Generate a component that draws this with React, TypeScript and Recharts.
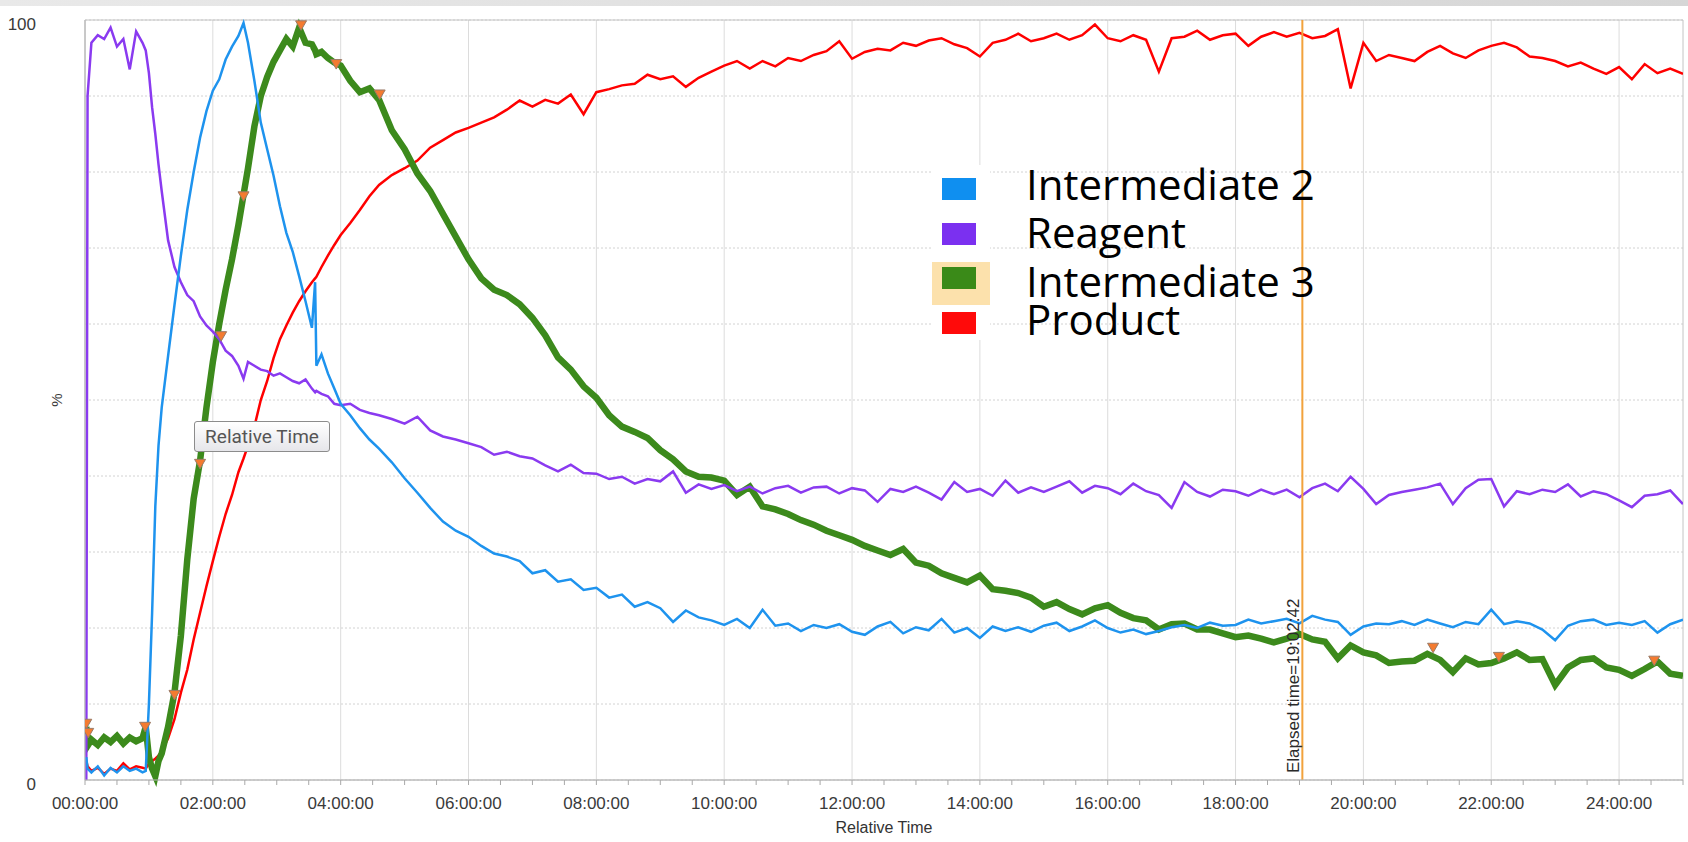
import React from 'react';
import {
  ComposedChart,
  Line,
  Scatter,
  XAxis,
  YAxis,
  CartesianGrid,
  ReferenceLine,
  ReferenceArea,
  Legend,
} from 'recharts';

// relative time in hours
const hours = [
  0.02, 0.04, 0.1, 0.2, 0.3, 0.4, 0.5, 0.6, 0.7, 0.8, 0.9, 0.95, 1, 1.05, 1.1, 1.15, 1.2, 1.3, 1.4, 1.5,
  1.6, 1.7, 1.8, 1.9, 2, 2.1, 2.2, 2.3, 2.4, 2.48, 2.55, 2.65, 2.75, 2.85, 2.95, 3.05, 3.15, 3.25, 3.35, 3.45,
  3.55, 3.6, 3.62, 3.7, 3.8, 3.9, 4, 4.15, 4.3, 4.45, 4.6, 4.8, 5, 5.2, 5.4, 5.6, 5.8, 6, 6.2, 6.4,
  6.6, 6.8, 7, 7.2, 7.4, 7.6, 7.8, 8, 8.2, 8.4, 8.6, 8.8, 9, 9.2, 9.4, 9.6, 9.8, 10, 10.2, 10.4,
  10.6, 10.8, 11, 11.2, 11.4, 11.6, 11.8, 12, 12.2, 12.4, 12.6, 12.8, 13, 13.2, 13.4, 13.6, 13.8, 14, 14.2, 14.4,
  14.6, 14.8, 15, 15.2, 15.4, 15.6, 15.8,
  16, 16.2, 16.4, 16.6, 16.8, 17, 17.2, 17.4, 17.6, 17.8, 18, 18.2, 18.4, 18.6, 18.8, 19, 19.2, 19.4, 19.6, 19.8,
  20, 20.2, 20.4, 20.6, 20.8, 21, 21.2, 21.4, 21.6, 21.8, 22, 22.2, 22.4, 22.6, 22.8, 23, 23.2, 23.4, 23.6, 23.8,
  24, 24.2, 24.4, 24.6, 24.8, 25,
];

const intermediate2 = [
  3, 1.5, 1.0, 1.8, 0.6, 1.6, 1.0, 1.8, 1.2, 1.5, 1.0, 1.2, 10, 22, 36, 44, 49, 55.8, 62.5, 69,
  75, 80, 84.5, 88, 90.7, 92.2, 94.8, 96.5, 97.9, 99.6, 97, 92, 86.5, 83, 79.5, 75.5, 72, 69.5, 66.3, 63,
  59.5, 65.5, 54.5, 56, 53.5, 51.5, 49.5, 48, 46.3, 44.8, 43.6, 41.8, 39.7, 37.8, 35.8, 34.0, 32.8, 32.0, 30.8, 29.8,
  29.4, 28.8, 27.2, 27.6, 26.1, 26.4, 25.0, 25.3, 24.0, 24.4, 22.8, 23.4, 22.6, 20.8, 22.3, 21.4, 21.0, 20.4, 21.2, 20.0,
  22.4, 20.3, 20.6, 19.6, 20.4, 20.0, 20.5, 19.5, 19.1, 20.2, 20.8, 19.3, 20.1, 19.7, 21.2, 19.4, 20.0, 18.7, 20.2, 19.6,
  20.1, 19.5, 20.3, 20.7, 19.6, 20.2, 21.0,
  20.0, 19.4, 19.8, 19.2, 19.6, 20.1, 20.4, 20.0, 20.7, 20.3, 20.4, 21.1, 20.6, 20.9, 21.2, 20.6, 21.6, 21.1, 20.8, 19.1,
  20.2, 20.6, 20.5, 20.9, 20.4, 21.1, 20.6, 20.1, 20.8, 20.5, 22.4, 20.5, 20.9, 20.6, 19.8, 18.4, 20.3, 20.9, 21.1, 20.4,
  20.7, 20.4, 20.9, 19.4, 20.5, 21.1,
];

const reagent = [
  0, 90, 97, 98, 97.5, 99, 96.5, 97.5, 93.5, 98.5, 97, 96, 93, 88.5, 85, 81, 77.5, 71, 67.5, 65.5,
  63.8, 63, 61, 59.8, 59, 58, 56.5, 55.8, 54.5, 52.8, 55, 54.5, 54, 53.8, 53.2, 53.5, 53, 52.5, 52.2, 52.7,
  51.5, 51, 51.2, 50.8, 50.5, 49.5, 49.3, 49.5, 48.7, 48.3, 48, 47.5, 46.9, 47.8, 46, 45.2, 44.8, 44.3, 43.8, 42.8,
  43.2, 42.6, 42.3, 41.4, 40.6, 41.5, 40.4, 40.3, 39.6, 39.9, 39.0, 39.6, 39.3, 40.6, 37.8, 38.9, 38.3, 38.8, 38.0, 38.6,
  37.7, 38.4, 38.7, 37.8, 38.5, 38.6, 37.7, 38.4, 38.1, 36.6, 38.3, 37.9, 38.6, 37.8, 36.9, 39.2, 37.9, 38.3, 37.4, 39.4,
  37.8, 38.5, 37.9, 38.6, 39.3, 37.8, 38.7,
  38.4, 37.6, 39.0, 38.0, 37.5, 35.8, 39.2, 37.9, 37.3, 38.2, 38.0, 37.4, 38.2, 37.6, 38.2, 37.2, 38.4, 39.0, 38.0, 39.9,
  38.3, 36.3, 37.5, 37.9, 38.2, 38.5, 39.0, 36.3, 38.4, 39.5, 39.6, 36.0, 38.0, 37.6, 38.2, 37.9, 38.9, 37.3, 38.0, 37.6,
  36.8, 35.9, 37.4, 37.6, 38.1, 36.3,
];

const intermediate3 = [
  7, 4.5, 5.3, 4.6, 5.6, 5.0, 5.8, 4.8, 5.6, 5.1, 5.5, 7, 3, 1.5, 0.5, 2.5, 3.5, 7, 11.5, 19,
  29, 37, 42, 49, 55, 60, 64.5, 68.5, 73, 77, 80.5, 86, 90, 92.5, 94.5, 96, 97.5, 96.5, 99, 97,
  96.8, 96, 95.5, 95.8, 95, 94.4, 94, 92, 90.5, 91, 89.5, 85.5, 83, 79.8, 77.5, 74.5, 71.5, 68.5, 66, 64.5,
  63.8, 62.6, 60.8, 58.5, 55.6, 54.0, 51.8, 50.3, 48.0, 46.5, 45.8, 45.0, 43.4, 42.2, 40.6, 39.9, 39.8, 39.4, 37.5, 38.6,
  36.0, 35.6, 35.0, 34.2, 33.6, 32.8, 32.2, 31.6, 30.8, 30.2, 29.6, 30.4, 28.6, 28.2, 27.2, 26.6, 26.0, 26.9, 25.1, 24.9,
  24.6, 24.0, 22.8, 23.4, 22.5, 21.8, 22.6,
  23.0, 22.0, 21.3, 21.0, 19.8, 20.5, 20.6, 19.8, 19.8, 19.3, 18.8, 19.0, 18.6, 18.1, 18.6, 19.2, 18.5, 18.2, 16.0, 17.7,
  16.8, 16.4, 15.4, 15.6, 15.7, 16.6, 15.8, 14.2, 16.0, 15.2, 15.4, 16.0, 16.8, 15.8, 15.9, 12.5, 14.8, 15.8, 16.0, 14.8,
  14.5, 13.7, 14.6, 15.6, 14.0, 13.7,
];

const product = [
  2.5, 1.8, 1.2, 1.6, 0.8, 1.5, 1.2, 2.2, 1.4, 1.8, 1.6, 1.5, 2.2, 2.5, 2.8, 3.2, 3.8, 5.5, 8, 11.5,
  14.5, 18.5, 22, 25.5, 28.8, 32, 35, 37.5, 40.5, 42.3, 44, 46.5, 50, 52.5, 55.5, 58, 59.8, 61.5, 63, 64.3,
  65.5, 66, 66.2, 67.5, 69, 70.4, 71.7, 73.3, 75, 76.8, 78.3, 79.6, 80.5, 81.5, 83.2, 84.2, 85.2, 85.8, 86.5, 87.2,
  88.2, 89.4, 88.6, 89.5, 89.0, 90.2, 87.6, 90.5, 90.9, 91.4, 91.6, 92.8, 92.2, 92.6, 91.2, 92.4, 93.2, 94.0, 94.6, 93.6,
  94.6, 93.9, 95.0, 94.6, 95.4, 95.9, 97.2, 94.9, 95.8, 96.2, 96.0, 97.0, 96.6, 97.3, 97.6, 96.8, 96.3, 95.2, 97.0, 97.4,
  98.2, 97.2, 97.6, 98.2, 97.4, 98.0, 99.4,
  97.6, 97.2, 98.0, 97.4, 93.2, 97.6, 97.8, 98.6, 97.4, 98.0, 98.2, 96.6, 97.8, 98.4, 97.8, 98.3, 97.6, 97.9, 98.8, 91.0,
  97.0, 94.6, 95.4, 95.0, 94.6, 95.8, 96.6, 95.6, 95.0, 96.0, 96.6, 97.0, 96.4, 95.2, 95.0, 94.6, 93.9, 94.4, 93.6, 92.9,
  93.8, 92.2, 94.2, 93.0, 93.6, 92.9,
];

// event markers sitting on the Intermediate 3 trace
const markerHours = [0.02, 0.05, 0.94, 1.4, 1.8, 2.13, 2.48, 3.38, 3.93, 4.61, 21.09, 22.12, 24.55];
const markerPct = [7.4, 6.2, 7.0, 11.2, 41.6, 58.4, 76.8, 99.3, 94.2, 90.2, 17.4, 16.2, 15.7];

const labelHours = [0, 2, 4, 6, 8, 10, 12, 14, 16, 18, 20, 22, 24];
const xTickLabels = [
  '00:00:00', '02:00:00', '04:00:00', '06:00:00', '08:00:00', '10:00:00', '12:00:00',
  '14:00:00', '16:00:00', '18:00:00', '20:00:00', '22:00:00', '24:00:00',
];
const minorHours = [
  0, 0.5, 1, 1.5, 2, 2.5, 3, 3.5, 4, 4.5, 5, 5.5, 6, 6.5, 7, 7.5, 8, 8.5, 9, 9.5, 10, 10.5, 11, 11.5, 12, 12.5,
  13, 13.5, 14, 14.5, 15, 15.5, 16, 16.5, 17, 17.5, 18, 18.5, 19, 19.5, 20, 20.5, 21, 21.5, 22, 22.5, 23, 23.5,
  24, 24.5, 25,
];
const yTicks = [0, 10, 20, 30, 40, 50, 60, 70, 80, 90, 100];
const yLabelled = [0, 100];

const elapsedHours = 19.045;
const elapsedLabel = 'Elapsed time=19:02:42';

const legendNames = ['Intermediate 2', 'Reagent', 'Intermediate 3', 'Product'];
const legendColors = ['#0F8FF0', '#7B30F0', '#3A8A18', '#FF0A0A'];

const rows = hours.map((t, i) => ({
  t,
  int2: intermediate2[i],
  reagent: reagent[i],
  int3: intermediate3[i],
  product: product[i],
}));
const markers = markerHours.map((t, i) => ({ t, v: markerPct[i] }));

const XTick = (props: any) => {
  const { x, y, payload } = props;
  const i = labelHours.indexOf(payload.value);
  if (i < 0) return <g />;
  return (
    <text x={x} y={y + 22} textAnchor="middle" fontSize={17} fill="#3a3a3a">
      {xTickLabels[i]}
    </text>
  );
};

const YTick = (props: any) => {
  const { y, payload } = props;
  if (!yLabelled.includes(payload.value)) return <g />;
  return (
    <text x={36} y={y + 10} textAnchor="end" fontSize={17} fill="#3a3a3a">
      {payload.value}
    </text>
  );
};

const Triangle = (props: any) => {
  const { cx, cy } = props;
  return (
    <path
      d={`M${cx - 5.5},${cy - 4.5} L${cx + 5.5},${cy - 4.5} L${cx},${cy + 5} Z`}
      fill="#F47B30"
      stroke="#9a7a66"
      strokeWidth={1}
    />
  );
};

const ElapsedLabel = (props: any) => {
  const { viewBox } = props;
  const x = viewBox.x - 3;
  const y = viewBox.y + viewBox.height - 7;
  return (
    <text x={x} y={y} transform={`rotate(-90, ${x}, ${y})`} fontSize={17} fill="#2a2a2a">
      {elapsedLabel}
    </text>
  );
};

const PercentLabel = (props: any) => {
  const { viewBox } = props;
  const x = 62;
  const y = viewBox.y + viewBox.height / 2;
  return (
    <text x={x} y={y} transform={`rotate(-90, ${x}, ${y})`} textAnchor="middle" fontSize={15} fill="#3a3a3a">
      %
    </text>
  );
};

const rowTops = [13, 58, 102, 147];
const rowBaselines = [35, 83, 132, 170];

const renderLegend = () => (
  <svg width={440} height={185} style={{ overflow: 'visible' }}>
    <rect x={0} y={0} width={58} height={175} fill="#ffffff" />
    <rect x={0} y={97} width={58} height={43} fill="#FCE1AC" />
    {legendNames.map((name, i) => (
      <g key={name}>
        <rect x={10} y={rowTops[i]} width={34} height={22} fill={legendColors[i]} />
        <text x={94} y={rowBaselines[i]} fontSize={42} fontFamily='"Open Sans", sans-serif' fill="#000">
          {name}
        </text>
      </g>
    ))}
  </svg>
);

export default function App() {
  return (
    <div
      style={{
        position: 'absolute',
        left: 0,
        top: 0,
        width: 1688,
        height: 842,
        background: '#fff',
        fontFamily: '"Liberation Sans", Arial, sans-serif',
      }}
    >
      <div
        style={{
          position: 'absolute',
          left: 0,
          top: 0,
          width: 1688,
          height: 6,
          background: 'linear-gradient(to right, #e9e9e9, #d6d6d6)',
        }}
      />
      <ComposedChart
        width={1688}
        height={842}
        data={rows}
        margin={{ top: 20, right: 5, bottom: 0, left: 0 }}
      >
        <CartesianGrid horizontal={false} verticalValues={labelHours} stroke="#dcdcdc" />
        <CartesianGrid vertical={false} stroke="#d2d2d2" strokeDasharray="2 2" />
        <XAxis
          dataKey="t"
          type="number"
          domain={[0, 25]}
          ticks={minorHours}
          interval={0}
          tick={<XTick />}
          tickSize={5}
          tickLine={{ stroke: '#a8a8a8' }}
          axisLine={{ stroke: '#b8b8b8' }}
          height={62}
          allowDataOverflow
          label={{ value: 'Relative Time', position: 'insideBottom', offset: 9, fontSize: 16, fill: '#333' }}
        />
        <YAxis
          type="number"
          domain={[0, 100]}
          ticks={yTicks}
          interval={0}
          width={85}
          tick={<YTick />}
          tickLine={false}
          axisLine={{ stroke: '#b8b8b8' }}
          label={<PercentLabel />}
        />
        <ReferenceArea x1={0} x2={25} y1={0} y2={100} fill="none" stroke="#c4c4c4" />
        <Line
          dataKey="product"
          stroke="#FF0000"
          strokeWidth={2.5}
          dot={false}
          type="linear"
          isAnimationActive={false}
        />
        <Line
          dataKey="int3"
          stroke="#3C8A1C"
          strokeWidth={6.5}
          dot={false}
          type="linear"
          isAnimationActive={false}
        />
        <Line
          dataKey="reagent"
          stroke="#8A3AF0"
          strokeWidth={2.5}
          dot={false}
          type="linear"
          isAnimationActive={false}
        />
        <Line
          dataKey="int2"
          stroke="#1E93EE"
          strokeWidth={2.5}
          dot={false}
          type="linear"
          isAnimationActive={false}
        />
        <Scatter data={markers} dataKey="v" shape={<Triangle />} isAnimationActive={false} />
        <ReferenceLine x={elapsedHours} stroke="#F2A23C" strokeWidth={2} label={<ElapsedLabel />} />
        <Legend
          layout="vertical"
          align="center"
          verticalAlign="middle"
          content={renderLegend}
          wrapperStyle={{ left: 932, top: 165, width: 440, height: 185 }}
        />
      </ComposedChart>
      <div
        style={{
          position: 'absolute',
          left: 194,
          top: 421,
          width: 134,
          height: 29,
          border: '1px solid #8c8c8c',
          borderRadius: 3,
          background: 'linear-gradient(#ffffff, #e6e6ea)',
          fontFamily: 'Roboto, sans-serif',
          fontSize: 19,
          color: '#555',
          lineHeight: '29px',
          textAlign: 'center',
        }}
      >
        Relative Time
      </div>
    </div>
  );
}
